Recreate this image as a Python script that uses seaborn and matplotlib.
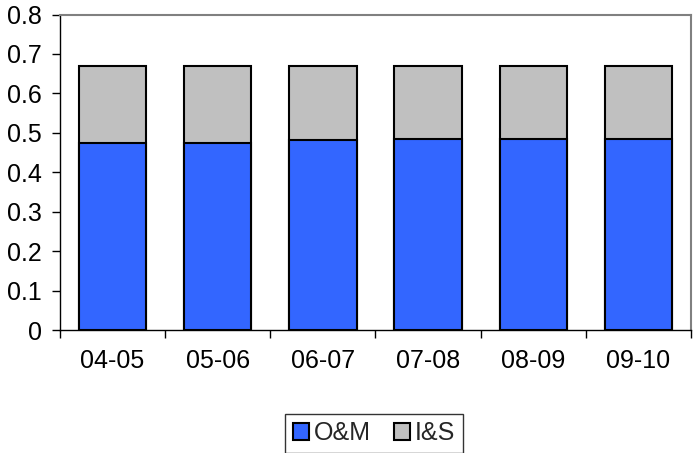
import matplotlib
matplotlib.use("Agg")
import matplotlib.pyplot as plt
from matplotlib.patches import Patch
from matplotlib.ticker import FixedLocator
import seaborn as sns
import pandas as pd

periods = ["04-05", "05-06", "06-07", "07-08", "08-09", "09-10"]
om_values = [0.475, 0.475, 0.482, 0.485, 0.485, 0.485]
is_values = [0.195, 0.195, 0.188, 0.185, 0.185, 0.185]
y_ticks = [0, 0.1, 0.2, 0.3, 0.4, 0.5, 0.6, 0.7, 0.8]
y_tick_labels = ["0", "0.1", "0.2", "0.3", "0.4", "0.5", "0.6", "0.7", "0.8"]

BLUE = "#3366FF"
GREY = "#C0C0C0"
FS = 18

sns.set_theme(style="white")
plt.rcParams["font.family"] = ["Liberation Sans", "DejaVu Sans"]

df = pd.DataFrame({
    "period": periods,
    "om": om_values,
    "total": [a + b for a, b in zip(om_values, is_values)],
})

fig = plt.figure(figsize=(6.94, 4.53), dpi=100)
ax = fig.add_axes([60 / 694, 123 / 453, 631 / 694, 315.5 / 453])

# stacked bars: full height in grey, O&M portion in blue on top of it
sns.barplot(data=df, x="period", y="total", color=GREY, width=0.64,
            edgecolor="black", linewidth=1.5, saturation=1, ax=ax)
sns.barplot(data=df, x="period", y="om", color=BLUE, width=0.64,
            edgecolor="black", linewidth=1.5, saturation=1, ax=ax)

ax.set_xlim(-0.5, len(periods) - 0.5)
ax.set_ylim(0, 0.8)
ax.set_yticks(y_ticks)
ax.set_yticklabels(y_tick_labels)
ax.set_xlabel("")
ax.set_ylabel("")

# ticks between categories, labels centred under bars
ax.xaxis.set_minor_locator(FixedLocator([i - 0.5 for i in range(len(periods) + 1)]))
ax.tick_params(axis="x", which="major", length=0, pad=13.5, labelsize=FS, colors="black")
ax.tick_params(axis="x", which="minor", length=6, width=1, color="black", bottom=True)
ax.tick_params(axis="y", which="major", length=6, width=1, color="black",
               left=True, pad=7, labelsize=FS, labelcolor="black")

for side in ["left", "bottom"]:
    ax.spines[side].set_color("black")
    ax.spines[side].set_linewidth(1)
for side in ["top", "right"]:
    ax.spines[side].set_visible(True)
    ax.spines[side].set_color("#808080")
    ax.spines[side].set_linewidth(1.5)

handles = [
    Patch(facecolor=BLUE, edgecolor="black", linewidth=1.5, label="O&M"),
    Patch(facecolor=GREY, edgecolor="black", linewidth=1.5, label="I&S"),
]
leg = fig.legend(handles=handles, loc="center", bbox_to_anchor=(374 / 694, 1 - 433 / 453),
                 ncol=2, frameon=True, fancybox=False, fontsize=FS,
                 handlelength=0.65, handleheight=0.65, handletextpad=0.2,
                 columnspacing=0.9, borderpad=0.3, borderaxespad=0)
leg.get_frame().set_edgecolor("black")
leg.get_frame().set_linewidth(1)

fig.savefig("out.png", dpi=100)
